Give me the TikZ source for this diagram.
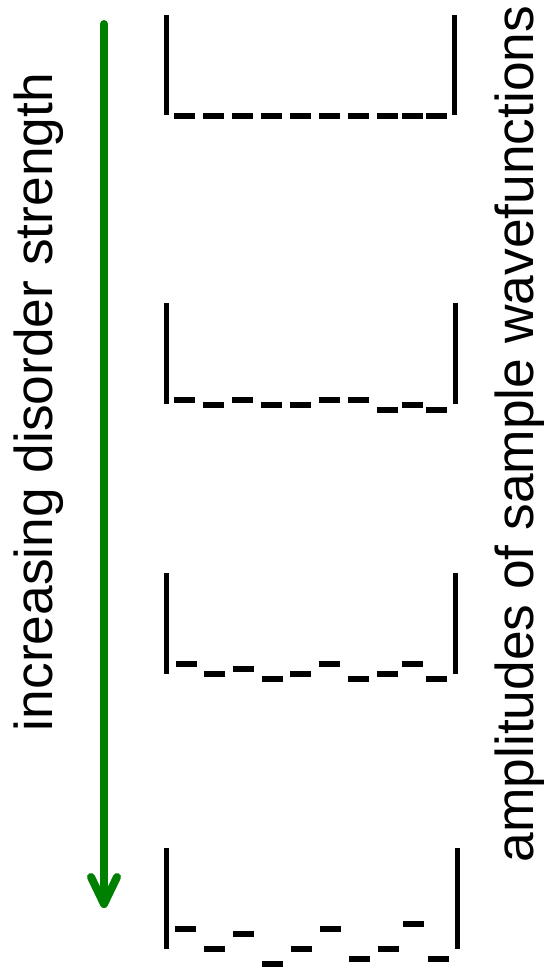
\documentclass[tikz,border=0pt]{standalone}
\usepackage{fontspec}
\setmainfont{Liberation Sans}
\definecolor{arrowgreen}{RGB}{0,128,0}
\begin{document}
\begin{tikzpicture}[x=0.75pt,y=-0.75pt,
  wall/.style={line width=3.5pt,black},
  level/.style={fill=black},
  arrowline/.style={line width=6pt,arrowgreen,line cap=round,line join=round},
  label/.style={rotate=90,anchor=base,inner sep=0pt,font=\fontsize{40}{48}\selectfont}]
\useasboundingbox (0,0) rectangle (543,970);
\fill[white] (0,0) rectangle (543,970);
% arrow
\coordinate (atop) at (104,24);
\coordinate (atip) at (104,904);
\coordinate (wl) at (91,877);
\coordinate (wr) at (117,877);
\draw[arrowline] (atop) -- (atip);
\draw[arrowline] (wl) -- (atip) -- (wr);
% texts
\node[label] (ldis) at (52,402) {increasing disorder strength};
\node[label] (lamp) at (533,434) {amplitudes of sample wavefunctions};
% well 1
\draw[wall] (166.3,15) -- (166.3,115);
\draw[wall] (454.7,15) -- (454.7,115);
\foreach \xx in {174,203,232,261,290,319,348,377,402,426}
  \fill[level] (\xx,113.3) rectangle ++(21,6);
% well 2
\draw[wall] (166.5,303) -- (166.5,404);
\draw[wall] (455.5,303) -- (455.5,404);
\foreach \xx/\yy in {174/400,203/405,232/400,261/405,290/405,319/400,348/400,377/410,402/405,426/410}
  \fill[level] (\xx,\yy-3) rectangle ++(21,6);
% well 3
\draw[wall] (166.8,573) -- (166.8,674);
\draw[wall] (455.3,573) -- (455.3,674);
\foreach \xx/\yy in {176/664,204/674,233/669,262/679,290/674,319/664,348/679,377/674,402/664,426/679}
  \fill[level] (\xx,\yy-3) rectangle ++(21,6);
% well 4
\draw[wall] (166.5,848) -- (166.5,949);
\draw[wall] (457.5,848) -- (457.5,949);
\foreach \xx/\yy in {175/929,204/949,233/934,262/964,291/949,320/929,349/959,378/949,403/924,428/959}
  \fill[level] (\xx,\yy-3) rectangle ++(21,6);
\end{tikzpicture}
\end{document}
